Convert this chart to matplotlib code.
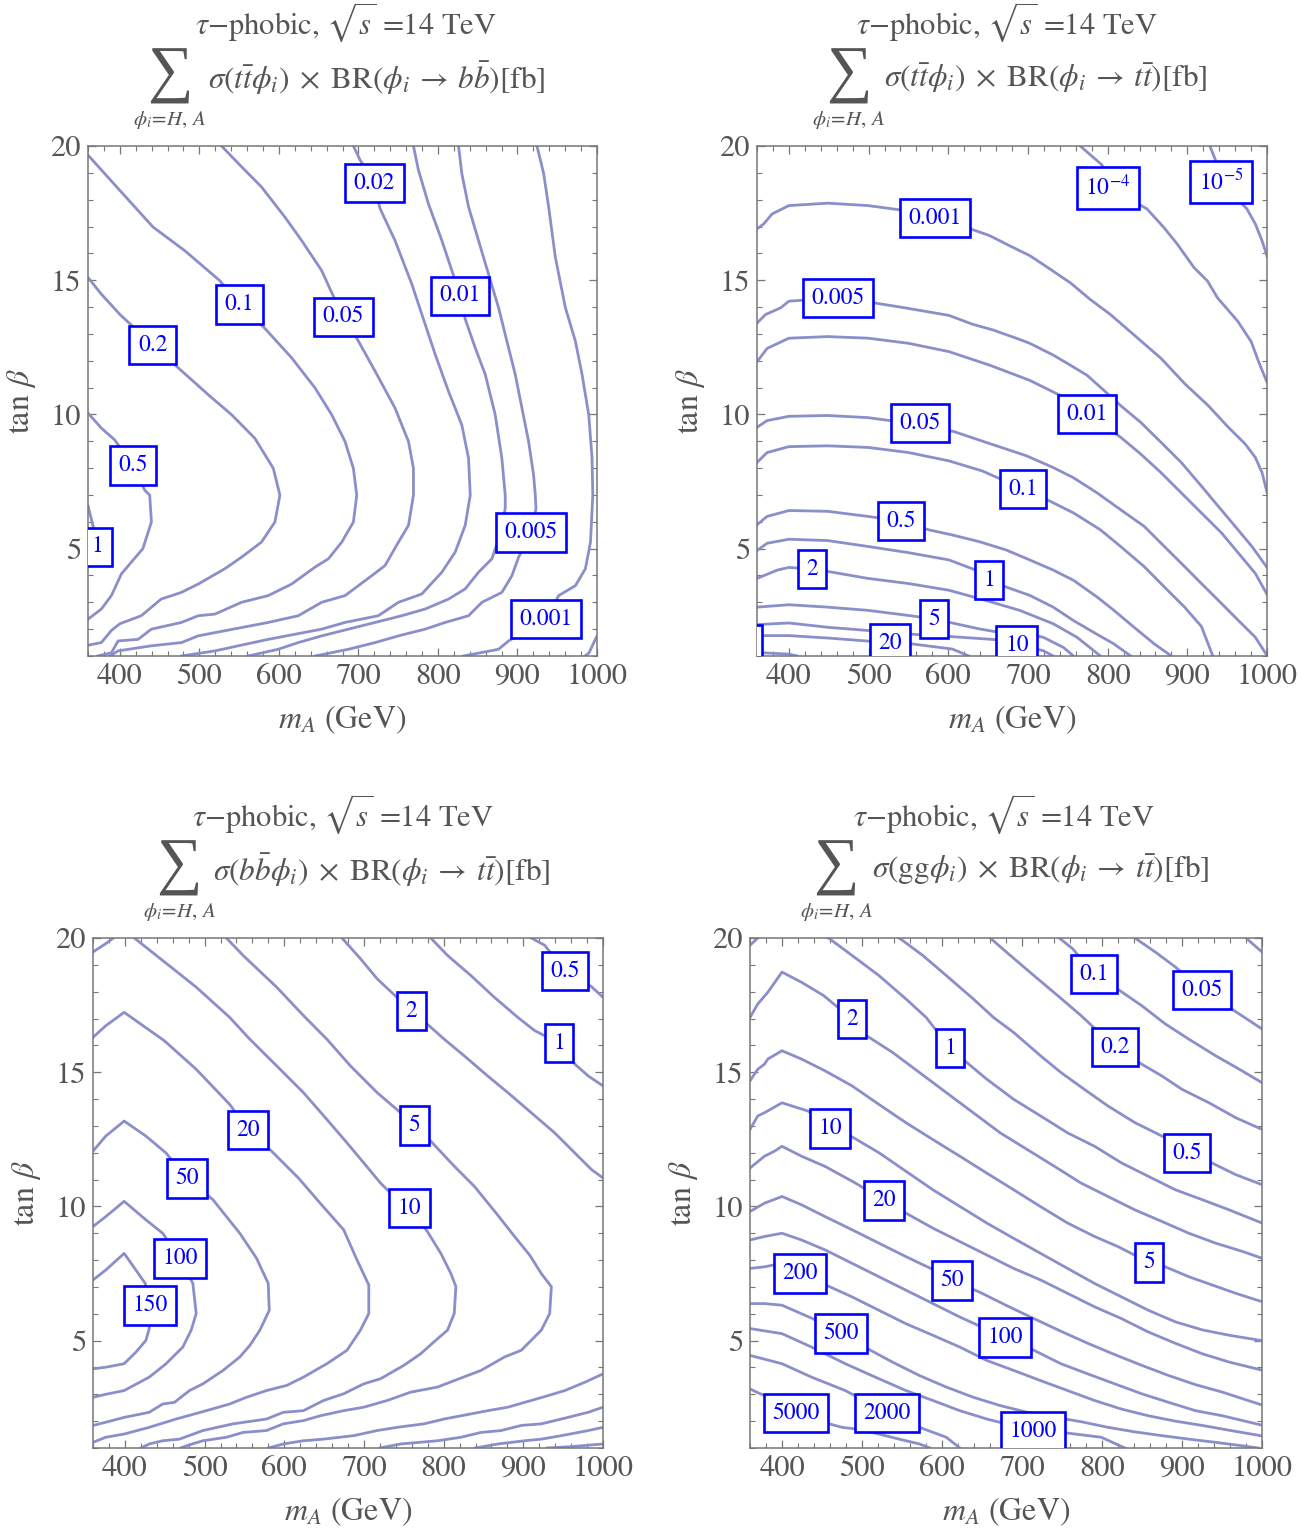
import numpy as np
import matplotlib
matplotlib.use("Agg")
import matplotlib.pyplot as plt
from matplotlib.ticker import MultipleLocator

plt.rcParams['font.family'] = 'STIXGeneral'
plt.rcParams['mathtext.fontset'] = 'stix'

LINE_COLOR = '#8a8fc9'
LABEL_BLUE = '#0000ff'
GRAY = '#555555'

# ---- top left: sigma(tt phi) x BR(phi -> bb) ----
tl_paths = [
    (1, [(360, 6.6), (365, 6.0), (370, 5.4)]),
    (0.5, [(360, 10.05), (376.8, 9.49), (393.6, 9.05), (416, 8.1), (431.3, 7.18), (437.6, 6.99),
           (439.7, 5.99), (429, 5.0), (414.6, 4.5), (402, 4.06), (389.4, 3.25), (376.8, 2.75), (360, 2.37)]),
    (0.2, [(360, 15.1), (376.8, 14.48), (399.9, 13.73), (441.4, 12.59), (473.3, 11.74), (511, 10.74),
           (540.5, 9.99), (569.8, 9.11), (593, 7.99), (601.3, 6.99), (595, 5.99), (578, 5.24), (553, 4.68),
           (532, 4.25), (498.5, 3.68), (477.5, 3.37), (452, 3.12), (427, 2.5), (399.9, 2.2), (389.4, 1.95),
           (376.8, 1.5), (360, 1.4)]),
    (0.1, [(360, 19.66), (399.9, 18.35), (441.8, 16.98), (481.7, 16.1), (525.8, 14.98), (550.6, 14.1),
           (581.6, 13.23), (616, 12.11), (645.4, 10.99), (666.4, 9.99), (683.2, 8.99), (693.7, 7.99),
           (697.9, 6.99), (693.7, 5.99), (679, 5.24), (662.2, 4.62), (645.4, 4.31), (616, 3.68), (586.6, 3.25),
           (553, 3.0), (519.5, 2.56), (498.5, 2.5), (477.5, 2.25), (439.7, 2.0), (423, 1.62), (397.8, 1.56),
           (389.4, 1.12), (372, 1.0)]),
    (0.05, [(527.9, 20), (553, 19.23), (578, 18.48), (607.6, 17.35), (628.6, 16.48), (653.8, 15.36),
            (666.4, 14.54), (681.2, 13.64), (700, 12.73), (721, 11.61), (746, 10.24), (763, 8.99),
            (769.2, 7.99), (769.2, 6.99), (763, 5.87), (750.3, 5.24), (733.5, 4.37), (716.7, 3.99),
            (700, 3.62), (683.2, 3.25), (653.8, 3.0), (624.4, 2.5), (586.6, 2.25), (532, 1.94),
            (498.5, 1.75), (477.5, 1.5), (439.7, 1.38), (397.8, 1.19), (388, 1.0)]),
    (0.02, [(693.7, 20), (702.1, 19.48), (720, 18.62), (727.2, 17.67), (746, 16.48), (767.1, 14.86),
            (783.9, 13.36), (796.5, 12.24), (813.3, 10.86), (830, 9.61), (838.5, 8.36), (840.6, 6.99),
            (834.3, 5.87), (821.7, 4.87), (804.9, 4.12), (779.7, 3.31), (750.3, 3.0), (725, 2.5),
            (683.2, 2.25), (653.8, 2.0), (620.2, 1.81), (586.6, 1.62), (549, 1.38), (519.5, 1.19),
            (477.5, 1.0)]),
    (0.01, [(769.2, 20), (775.5, 19.1), (788, 17.85), (804.9, 16.48), (817.5, 15.36), (828, 14.42),
            (834.3, 13.55), (846.9, 12.48), (859.5, 11.49), (872, 9.99), (880.4, 8.36), (884.6, 6.99),
            (884.6, 6.49), (878, 5.5), (867.8, 4.62), (851, 4.12), (834.3, 3.5), (813.3, 3.12),
            (783.9, 2.75), (754.5, 2.5), (721, 2.25), (687.4, 2.0), (653.8, 1.75), (624.4, 1.5),
            (599, 1.25), (561.3, 1.0)]),
    (0.005, [(825.9, 20), (830, 18.98), (838.5, 17.73), (851, 16.48), (863.6, 15.23), (876.2, 13.98),
             (886.7, 12.73), (897.2, 11.49), (905.6, 10.24), (914, 8.99), (920.3, 7.74), (922.4, 6.99),
             (923.3, 6.49), (917.7, 5.62), (901.4, 4.68), (893, 3.99), (880.4, 3.37), (855.3, 3.0),
             (838.5, 2.5), (809.1, 2.25), (783.9, 2.0), (750.3, 1.75), (721, 1.5), (687.4, 1.25),
             (645.4, 1.0)]),
    (0.001, [(924.5, 20), (932.9, 18.98), (939.2, 17.73), (947.6, 15.86), (960.2, 13.98), (972.8, 12.73),
             (981.2, 11.49), (989.6, 9.99), (993.8, 8.36), (994.7, 6.99), (991.8, 5.24), (985.4, 4.25),
             (972.8, 3.62), (951.8, 3.25), (936, 2.38), (888.8, 1.56), (876.2, 1.25), (832, 1.0)]),
    (None, [(985, 1.0), (990, 1.12), (1000, 1.75)]),
]
tl_labels = [(1, 372, 5.07), (0.5, 416.3, 8.1), (0.2, 441.4, 12.59), (0.1, 550.6, 14.1),
             (0.05, 681.2, 13.64), (0.02, 720, 18.62), (0.01, 828, 14.42), (0.005, 917, 5.6),
             (0.001, 936, 2.38)]

# ---- top right: sigma(tt phi) x BR(phi -> tt) ----
tr_paths = [
    (1e-5, [(928.3, 20), (938.8, 19.22), (942.3, 18.66), (974.7, 17.66), (985.3, 17.1), (993.8, 16.47),
            (1000, 15.9)]),
    (1e-4, [(765.6, 20), (793.1, 19.29), (802, 18.44), (849.3, 17.66), (870.4, 16.97), (887.3, 16.35),
            (908.4, 15.47), (925.3, 14.97), (938, 14.34), (963.3, 13.47), (980.2, 12.71), (989.5, 11.96),
            (1000, 11.2)]),
    (0.001, [(360, 16.91), (368.5, 17.1), (379, 17.47), (400.1, 17.78), (448.7, 17.87), (499.4, 17.78),
             (539.5, 17.62), (583.3, 17.32), (634, 16.85), (652, 16.66), (677.3, 16.28), (702.7, 15.91),
             (728, 15.41), (753.4, 14.9), (778.3, 14.28), (803.6, 13.72), (833.2, 12.96), (867, 12.09),
             (896.6, 11.15), (926.2, 10.33), (951.5, 9.52), (972.6, 8.9), (985.3, 8.4), (993.8, 7.83),
             (1000, 7.1)]),
    (0.005, [(360, 13.4), (370.6, 13.72), (389.6, 13.97), (400.1, 14.22), (461.5, 14.34), (507.9, 14.15),
             (541.7, 13.99), (571.3, 13.84), (600.8, 13.69), (630.4, 13.36), (655.8, 13.15), (685.3, 12.84),
             (702.2, 12.65), (731.8, 12.21), (752.9, 11.84), (774.1, 11.46), (795.2, 10.9), (816.3, 10.33),
             (841.7, 9.7), (867, 8.96), (892.4, 8.21), (917.7, 7.33), (938.8, 6.58), (960, 5.83),
             (981.1, 5.08), (1000, 4.3)]),
    (0.01, [(360, 11.96), (372.7, 12.46), (400.1, 12.84), (448.7, 12.9), (499.4, 12.84), (550.1, 12.65),
            (600.8, 12.34), (651.5, 11.84), (702.2, 11.27), (740.3, 10.71), (774, 10.01), (816.3, 9.15),
            (841.7, 8.52), (867, 7.83), (892.4, 7.08), (917.7, 6.33), (943.1, 5.58), (964.2, 4.83),
            (985.3, 4.08), (1000, 3.3)]),
    (0.05, [(360, 9.52), (372.7, 9.77), (400.1, 9.93), (448.7, 9.96), (499.4, 9.88), (564.4, 9.62),
            (607.2, 9.36), (647.3, 8.96), (698, 8.46), (731.8, 8.02), (757.2, 7.64), (786.7, 7.08),
            (816.3, 6.45), (845.9, 5.83), (871.2, 5.08), (896.6, 4.33), (917.7, 3.7), (943.1, 2.95),
            (964.2, 2.32), (985.3, 1.7), (1000, 1.02)]),
    (0.1, [(360, 8.21), (372.7, 8.58), (400.1, 8.8), (448.7, 8.83), (499.4, 8.77), (550.1, 8.58),
           (600.8, 8.27), (643.1, 7.89), (693.7, 7.22), (727.6, 6.77), (757.2, 6.33), (791, 5.7),
           (816.3, 5.08), (845.9, 4.33), (871.2, 3.57), (896.6, 2.82), (917.7, 2.1), (932, 1.0)]),
    (0.5, [(360, 5.89), (372.7, 6.2), (400.1, 6.42), (448.7, 6.39), (499.4, 6.2), (540.6, 6.03),
           (575.5, 5.7), (605, 5.51), (638.9, 5.26), (672.7, 4.95), (702.2, 4.58), (731.8, 4.2),
           (757.2, 3.82), (786.7, 3.2), (807.9, 2.7), (833.2, 2.07), (858.6, 1.45), (880, 1.0)]),
    (1, [(360, 4.93), (372.7, 5.2), (400.1, 5.35), (448.7, 5.3), (499.4, 5.08), (550.1, 4.85),
         (600.8, 4.58), (634.6, 4.2), (651, 3.83), (672.7, 3.57), (702.2, 3.26), (731.8, 2.82),
         (757.2, 2.32), (782.5, 1.88), (807.9, 1.45), (829, 1.0)]),
    (2, [(360, 3.89), (385.4, 4.2), (400.1, 4.3), (428.9, 4.24), (450.8, 4.14), (499.4, 3.89),
         (550.1, 3.7), (600.8, 3.45), (647.3, 3.07), (689.6, 2.7), (731.8, 2.2), (761.4, 1.7), (791, 1.0)]),
    (5, [(360, 2.82), (400.1, 2.91), (448.7, 2.82), (499.4, 2.7), (550.1, 2.51), (582, 2.38),
         (638.9, 2.01), (664.2, 1.88), (698, 1.82), (719.1, 1.7), (744.5, 1.32), (757.2, 1.0)]),
    (10, [(360, 2.17), (400.1, 2.23), (448.7, 2.07), (499.4, 1.95), (550.1, 1.82), (605, 1.72),
          (664.2, 1.6), (686, 1.4), (719.1, 1.2), (731.8, 1.0)]),
    (20, [(360, 1.76), (400.1, 1.76), (448.7, 1.67), (501.5, 1.55), (526.8, 1.48), (554.4, 1.45),
          (605, 1.26), (626, 1.0)]),
    (50, [(360, 1.13), (400.1, 1.07), (410.7, 1.0)]),
]
tr_labels = [(1e-5, 942.3, 18.66), (1e-4, 800.4, 18.44), (0.001, 583.3, 17.32), (0.005, 461.5, 14.34),
             (0.01, 774, 10.01), (0.05, 564.4, 9.68), (0.1, 693.7, 7.22), (0.5, 540.6, 6.03),
             (1, 651, 3.83), (2, 428.9, 4.24), (5, 582, 2.38), (10, 686, 1.41), (20, 526.8, 1.48),
             (50, 341, 1.45)]

# ---- bottom left: sigma(bb phi) x BR(phi -> tt) ----
bl_paths = [
    (150, [(360, 7.26), (376, 7.63), (399.1, 8.25), (413.8, 7.63), (425.6, 7.13), (431.4, 6.31),
           (430.6, 5.45), (426.4, 5.01), (413.8, 4.57), (399.1, 4.14), (388.6, 4.08), (376, 4.01),
           (360, 3.95)]),
    (100, [(360, 9.25), (376, 9.62), (399.1, 10.19), (426.4, 9.5), (447.5, 9.0), (469, 8.06),
           (485.3, 7.13), (489.5, 6.01), (483.2, 5.39), (472.7, 4.76), (451.7, 4.14), (430.6, 3.64),
           (399.1, 3.14), (376, 3.0), (360, 2.89)]),
    (50, [(360, 12.06), (376, 12.62), (399.1, 13.18), (426.4, 12.62), (451.7, 11.99), (478, 11.04),
          (510.5, 10.25), (544.2, 9.0), (565.2, 8.07), (579.9, 7.13), (581.2, 6.13), (569.4, 5.39),
          (556.8, 4.82), (544.2, 4.39), (523.2, 3.89), (497.9, 3.39), (481.1, 3.14), (462.2, 2.7),
          (447.5, 2.64), (430.6, 2.33), (399.1, 2.14), (376, 1.96), (360, 1.84)]),
    (20, [(360, 16.3), (376, 16.73), (399.1, 17.23), (449.6, 16.17), (489.5, 15.11), (531.6, 13.8),
          (554.7, 12.84), (584.1, 12.06), (617.8, 11.06), (645.1, 10.12), (674.5, 9.13), (691.4, 8.0),
          (706.1, 7.07), (706.1, 6.01), (695.6, 5.39), (678.7, 4.64), (653.5, 4.14), (624.1, 3.64),
          (603, 3.33), (577.8, 3.14), (552.6, 2.89), (531.6, 2.64), (502.1, 2.39), (464.3, 2.08),
          (430.6, 1.77), (399.1, 1.52), (376, 1.4), (360, 1.21)]),
    (10, [(360, 19.48), (376, 19.79), (399.1, 20.3), (447.5, 19.16), (489.5, 18.17), (531.6, 17.04),
          (556.8, 16.23), (590.4, 15.24), (624.1, 14.24), (653.5, 13.24), (678.7, 12.37), (699.8, 11.62),
          (720.8, 10.87), (733.4, 10.5), (757.2, 9.93), (779.7, 9.06), (796.5, 8.25), (809.1, 7.5),
          (815.4, 7.01), (813.3, 6.01), (804.9, 5.39), (792.3, 5.07), (771.2, 4.51), (750.2, 4.08),
          (720.8, 3.58), (699.8, 3.39), (674.5, 3.02), (649.3, 2.77), (624.1, 2.39), (598.8, 2.33),
          (577.8, 2.08), (535.8, 1.9), (497.9, 1.65), (468.5, 1.33), (447.5, 1.27), (430.6, 1.15),
          (420, 1.0)]),
    (5, [(527.4, 20), (548.4, 19.35), (590.4, 18.17), (624.1, 17.11), (653.5, 16.23), (682.9, 15.24),
         (716.6, 14.24), (746, 13.49), (763.5, 13.02), (783.9, 12.43), (813.3, 11.5), (838.5, 10.75),
         (865.9, 9.75), (889, 8.88), (907.9, 8.19), (922.6, 7.5), (935.2, 7.01), (933.1, 6.01),
         (922.6, 5.39), (897.4, 4.64), (876.4, 4.39), (846.9, 3.89), (813.3, 3.51), (792.3, 3.27),
         (758.6, 3.08), (729.2, 2.77), (699.8, 2.52), (674.5, 2.39), (645.1, 2.2), (624.1, 2.02),
         (598.8, 1.9), (577.8, 1.65), (548.4, 1.58), (527.4, 1.4), (497.9, 1.27), (476.9, 1.08),
         (470, 1.0)]),
    (2, [(672.4, 20), (695.6, 19.23), (716.6, 18.48), (759.7, 17.28), (781.8, 16.73), (800.7, 16.23),
         (825.9, 15.61), (855.3, 14.86), (880.6, 14.24), (910, 13.49), (939.4, 12.74), (964.7, 11.99),
         (985.7, 11.37), (1000, 11.06)]),
    (2, [(1000, 3.76), (977.3, 3.45), (952.1, 3.14), (931, 2.95), (901.6, 2.7), (880.6, 2.52),
         (855.3, 2.39), (834.3, 2.27), (800.7, 2.08), (775.5, 1.9), (741.8, 1.77), (716.6, 1.65),
         (687.2, 1.46), (649.3, 1.33), (624.1, 1.27), (598.8, 1.15), (580, 1.0)]),
    (1, [(783.9, 20), (804.9, 19.35), (834.3, 18.6), (863.7, 17.79), (893.2, 17.04), (914.2, 16.55),
         (926.8, 16.36), (944.7, 16.08), (964.7, 15.3), (981.5, 14.86), (1000, 14.49)]),
    (1, [(1000, 2.52), (981.5, 2.33), (947.9, 2.08), (922.6, 1.9), (897.4, 1.84), (872.2, 1.65),
         (846.9, 1.58), (821.7, 1.4), (792.3, 1.27), (746, 1.15), (720, 1.0)]),
    (0.5, [(910, 20), (926.8, 19.73), (952.2, 18.77), (985, 18.2), (1000, 17.79)]),
    (0.5, [(1000, 1.77), (981.5, 1.65), (947.9, 1.46), (922.6, 1.33), (901.6, 1.27), (868, 1.15),
           (840, 1.0)]),
    (None, [(1000, 1.15), (960, 1.05), (930, 1.0)]),
]
bl_labels = [(150, 431.4, 6.31), (100, 469, 8.06), (50, 478, 11.04), (20, 554.7, 12.84),
             (10, 757.2, 9.93), (5, 763.5, 13.02), (2, 759.7, 17.28), (1, 944.7, 16.08),
             (0.5, 952.2, 18.77)]

# ---- bottom right: sigma(gg phi) x BR(phi -> tt) ----
br_paths = [
    (None, [(980, 20), (1000, 19.48)]),
    (0.05, [(841.2, 20), (866.5, 19.48), (891.7, 18.92), (925, 18.06), (965.4, 17.29), (984.3, 16.92),
            (1000, 16.61)]),
    (0.1, [(746.5, 20), (763.3, 19.6), (790, 18.66), (822.3, 18.04), (849.6, 17.48), (879.1, 16.8),
           (908.6, 16.23), (942.2, 15.61), (971.7, 15.11), (1000, 14.61)]),
    (0.2, [(660.2, 20), (685.4, 19.35), (714.9, 18.6), (744.4, 17.86), (773.8, 17.11), (816, 15.93),
           (849.6, 15.3), (874.9, 14.86), (900.1, 14.36), (933.8, 13.86), (967.5, 13.3), (1000, 12.87)]),
    (0.5, [(546.5, 20), (576, 19.35), (605.4, 18.6), (639.1, 17.73), (664.4, 17.04), (689.6, 16.48),
           (723.3, 15.61), (748.6, 14.99), (778, 14.36), (807.5, 13.74), (841.2, 13.12), (879.1, 12.56),
           (906, 11.98), (937.4, 11.62), (967.5, 11.18), (1000, 10.81)]),
    (1, [(360, 19.73), (369.7, 20), (400, 20.6), (458.1, 20), (487.6, 19.35), (521.2, 18.6),
         (554.9, 17.73), (580.2, 17.04), (610, 15.9), (628.6, 15.42), (656, 14.74), (689.6, 13.99),
         (723.3, 13.37), (757, 12.74), (790.7, 12.24), (824.4, 11.62), (858, 11.12), (891.7, 10.62),
         (925.4, 10.25), (959.1, 9.87), (1000, 9.38)]),
    (2, [(360, 17.04), (369.7, 17.54), (382.3, 17.98), (400, 18.73), (424.4, 18.35), (451.8, 17.86),
         (487.5, 16.98), (505.7, 16.36), (538.1, 15.74), (571.8, 14.99), (605.4, 14.24), (639.1, 13.49),
         (672.8, 12.74), (706.5, 12.12), (740.2, 11.5), (773.8, 10.87), (807.5, 10.37), (841.2, 9.87),
         (874.9, 9.44), (908.6, 9.0), (942.2, 8.63), (975.9, 8.32), (1000, 8.07)]),
    (5, [(360, 14.68), (369.7, 15.11), (378.1, 15.3), (382.3, 15.49), (400, 15.8), (424.4, 15.49),
         (453.9, 15.05), (487.6, 14.49), (521.2, 13.8), (554.9, 13.12), (588.6, 12.49), (622.3, 11.87),
         (656, 11.24), (689.6, 10.62), (723.3, 9.99), (757, 9.38), (790.7, 8.88), (820.2, 8.5),
         (858.8, 7.91), (879.1, 7.75), (908.6, 7.38), (938, 7.07), (967.5, 6.76), (1000, 6.45)]),
    (10, [(360, 12.87), (369.7, 13.37), (378.1, 13.49), (400, 13.86), (432.8, 13.55), (460, 12.95),
          (486, 12.62), (521.2, 12.0), (554.9, 11.31), (588.6, 10.62), (622.3, 10.0), (656, 9.38),
          (689.6, 8.81), (723.3, 8.25), (757, 7.69), (790.7, 7.13), (824.4, 6.63), (858, 6.13),
          (891.7, 5.7), (925.4, 5.4), (959.1, 5.2), (1000, 5.0)]),
    (20, [(360, 11.43), (378.1, 11.87), (390.7, 12.06), (400, 12.24), (424.4, 11.87), (453.9, 11.49),
          (491.8, 10.87), (527.5, 10.22), (554.9, 9.75), (588.6, 9.19), (622.3, 8.69), (656, 8.19),
          (689.6, 7.69), (723.3, 7.26), (757, 6.76), (790.7, 6.26), (824.4, 5.82), (858, 5.32),
          (891.7, 4.9), (925.4, 4.51), (959.1, 4.2), (1000, 3.9)]),
    (50, [(360, 9.81), (378.1, 10.12), (400, 10.37), (424.4, 10.06), (453.9, 9.62), (487.6, 9.13),
          (521.2, 8.63), (554.9, 8.13), (588.6, 7.65), (612.5, 7.24), (647.5, 6.8), (681.2, 6.3),
          (714.9, 5.82), (748.6, 5.35), (782.3, 4.9), (815.9, 4.48), (849.6, 4.08), (883.3, 3.7),
          (916.9, 3.36), (950.6, 3.08), (1000, 2.6)]),
    (100, [(360, 8.75), (378.1, 8.88), (400, 9.0), (424.4, 8.75), (453.9, 8.38), (487.6, 7.88),
           (521.2, 7.38), (554.9, 6.88), (588.6, 6.38), (622.3, 5.88), (678.8, 5.11), (714.9, 4.64),
           (748.6, 4.14), (782.3, 3.76), (815.9, 3.39), (849.6, 3.02), (883.3, 2.7), (916.9, 2.39),
           (950.6, 2.2), (1000, 1.85)]),
    (200, [(360, 7.69), (378.1, 7.75), (400, 7.88), (422.5, 7.5), (455, 7.07), (487.6, 6.63),
           (521.2, 6.13), (554.9, 5.63), (588.6, 5.2), (622.3, 4.76), (656, 4.26), (689.6, 3.89),
           (723.3, 3.51), (757, 3.14), (790.7, 2.77), (824.4, 2.45), (858, 2.2), (891.7, 2.0),
           (925.4, 1.84), (959.1, 1.66), (1000, 1.45)]),
    (500, [(360, 6.38), (378.1, 6.38), (400, 6.32), (438.3, 5.82), (473.8, 5.26), (507, 4.7),
           (538.1, 4.2), (571.8, 3.7), (605.4, 3.27), (639.1, 2.89), (672.8, 2.58), (706.5, 2.33),
           (740.2, 2.15), (773.8, 1.98), (807.5, 1.77), (841.2, 1.6), (874.9, 1.46), (908.6, 1.33),
           (942.2, 1.21), (975.9, 1.08), (995, 1.0)]),
    (1000, [(360, 5.45), (400, 5.26), (437, 4.76), (479.1, 4.14), (521.2, 3.58), (554.9, 3.14),
            (588.6, 2.77), (622.3, 2.39), (656, 2.08), (713.8, 1.64), (758.3, 1.55), (799.1, 1.4),
            (828.6, 1.0)]),
    (2000, [(360, 4.45), (400, 4.14), (437, 3.64), (479.1, 3.14), (531, 2.31), (571.8, 1.77),
            (605.4, 1.4), (622.3, 1.0)]),
    (5000, [(360, 3.2), (390, 2.78), (417.5, 2.31), (459, 1.9), (474.9, 1.77), (491.8, 1.71),
            (521.2, 1.52), (546.5, 1.33), (571.8, 1.15), (585, 1.0)]),
]
br_labels = [(0.1, 790, 18.66), (0.05, 925, 18.06), (2, 487.5, 16.98), (1, 610, 15.9), (0.2, 816, 15.93),
             (10, 460, 12.91), (0.5, 906, 11.98), (20, 527.5, 10.22), (5, 858.8, 7.91), (200, 422.5, 7.5),
             (50, 612.5, 7.24), (500, 473.8, 5.26), (100, 678.8, 5.11), (5000, 417.5, 2.31),
             (2000, 531, 2.31), (1000, 713.8, 1.64)]

formulas = [
    r'$\sigma(t\bar{t}\phi_i)\;\times\;\mathrm{BR}(\phi_i\:\rightarrow\:b\bar{b})[\mathrm{fb}]$',
    r'$\sigma(t\bar{t}\phi_i)\;\times\;\mathrm{BR}(\phi_i\:\rightarrow\:t\bar{t})[\mathrm{fb}]$',
    r'$\sigma(b\bar{b}\phi_i)\;\times\;\mathrm{BR}(\phi_i\:\rightarrow\:t\bar{t})[\mathrm{fb}]$',
    r'$\sigma(\mathrm{gg}\phi_i)\;\times\;\mathrm{BR}(\phi_i\:\rightarrow\:t\bar{t})[\mathrm{fb}]$',
]

W, H = 1312, 1532
# axes boxes in pixels: left, top, right, bottom
boxes = [(88, 146, 597, 656), (757, 146, 1267, 656), (93, 938, 603, 1448), (750, 938, 1262, 1448)]
title_x = [0.507, 0.49, 0.49, 0.496]
sum_x = [0.161, 0.18, 0.169, 0.168]
formula_x = [0.236, 0.249, 0.235, 0.238]
panels = [(tl_paths, tl_labels), (tr_paths, tr_labels), (bl_paths, bl_labels), (br_paths, br_labels)]


def level_text(v):
    if v < 1e-3:
        return r'$10^{%d}$' % round(np.log10(v))
    return f'{v:g}'


fig = plt.figure(figsize=(W / 100, H / 100), dpi=100)

for i, ((paths, labels), (l, t, r, b)) in enumerate(zip(panels, boxes)):
    ax = fig.add_axes([l / W, 1 - b / H, (r - l) / W, (b - t) / H])
    hpx = b - t
    wpx = r - l

    for level, pts in paths:
        xs, ys = zip(*pts)
        ax.plot(xs, ys, color=LINE_COLOR, lw=2.0, solid_joinstyle='round', zorder=2)

    for level, x, y in labels:
        ax.text(x, y, level_text(level), ha='center', va='center', color=LABEL_BLUE,
                fontsize=17, zorder=4, clip_on=True,
                bbox=dict(boxstyle='square,pad=0.36', fc='white', ec=LABEL_BLUE, lw=1.9))

    ax.set_xlim(360, 1000)
    ax.set_ylim(1, 20)
    ax.xaxis.set_major_locator(MultipleLocator(100))
    ax.xaxis.set_minor_locator(MultipleLocator(20))
    ax.set_yticks([5, 10, 15, 20])
    ax.yaxis.set_minor_locator(MultipleLocator(1))
    ax.tick_params(which='both', direction='in', top=True, right=True, color='#777777',
                   labelcolor=GRAY, labelsize=22)
    ax.tick_params(which='major', length=6, width=0.9)
    ax.tick_params(which='minor', length=3.5, width=0.8)
    ax.tick_params(axis='x', pad=5)
    ax.tick_params(axis='y', pad=5)
    for sp in ax.spines.values():
        sp.set_color('#777777')
        sp.set_linewidth(1.1)

    ax.set_xlabel(r'$m_A$ (GeV)', fontsize=23, color=GRAY)
    ax.xaxis.set_label_coords(0.5, -47 / hpx)
    ax.set_ylabel(r'tan $\beta$', fontsize=23, color=GRAY)
    ax.yaxis.set_label_coords(-50 / wpx, 0.5)

    ax.text(title_x[i], 1 + 124 / hpx, r'$\tau$−phobic, $\sqrt{s}$ =14 TeV', transform=ax.transAxes,
            ha='center', va='center', fontsize=22, color=GRAY)
    ax.text(sum_x[i], 1 + 70 / hpx, '∑', transform=ax.transAxes, family='Liberation Serif',
            ha='center', va='center', fontsize=46, color=GRAY)
    ax.text(sum_x[i], 1 + 26 / hpx, r'$\phi_i\!=\!H,\,A$', transform=ax.transAxes,
            ha='center', va='center', fontsize=15, color=GRAY)
    ax.text(formula_x[i], 1 + 68 / hpx, formulas[i], transform=ax.transAxes,
            ha='left', va='center', fontsize=22.5, color=GRAY)

fig.savefig('out.png', dpi=100)
